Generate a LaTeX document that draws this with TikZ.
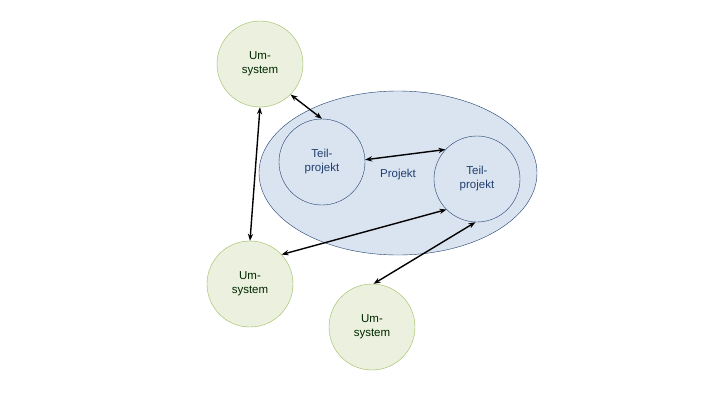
\documentclass[tikz,border=0pt]{standalone}
\usepackage{fontspec}
\setmainfont{Liberation Sans}
\usetikzlibrary{shapes.geometric,arrows.meta}
\definecolor{gfill}{HTML}{EBF1DE}
\definecolor{gline}{HTML}{9BBB59}
\definecolor{bfill}{HTML}{DAE3F0}
\definecolor{bline}{HTML}{1F3F6F}
\begin{document}
\begin{tikzpicture}[x=1pt,y=-1pt,
  um/.style={circle,draw=gline,fill=gfill,minimum size=86pt,inner sep=0pt,align=center,font=\fontsize{11.5}{14}\selectfont,text=black!85!green},
  tp/.style={circle,draw=bline,fill=bfill,minimum size=86pt,inner sep=0pt,align=center,font=\fontsize{11.5}{14}\selectfont,text=bline},
  arr/.style={{Stealth[length=7pt]}-{Stealth[length=7pt]},line width=1.4pt}]
\useasboundingbox (0,0) rectangle (720,405);
\node[ellipse,draw=bline,fill=bfill,minimum width=278pt,minimum height=164pt,inner sep=0pt] (p) at (398,173) {};
\node[text=bline,font=\fontsize{11.5}{14}\selectfont] (pl) at (398,175) {Projekt};
\node[tp] (t1) at (322,162) {Teil-\\projekt};
\node[tp] (t2) at (477,179) {Teil-\\projekt};
\node[um] (u1) at (260,64) {Um-\\system};
\node[um] (u2) at (250,284) {Um-\\system};
\node[um] (u3) at (372,327) {Um-\\system};
\draw[arr] (u1.-45) -- (t1.90);
\draw[arr] (t1.3) -- (t2.137);
\draw[arr] (u1.-90) -- (u2.90);
\draw[arr] (u2.43) -- (t2.225);
\draw[arr] (t2.268) -- (u3.88);
\end{tikzpicture}
\end{document}
